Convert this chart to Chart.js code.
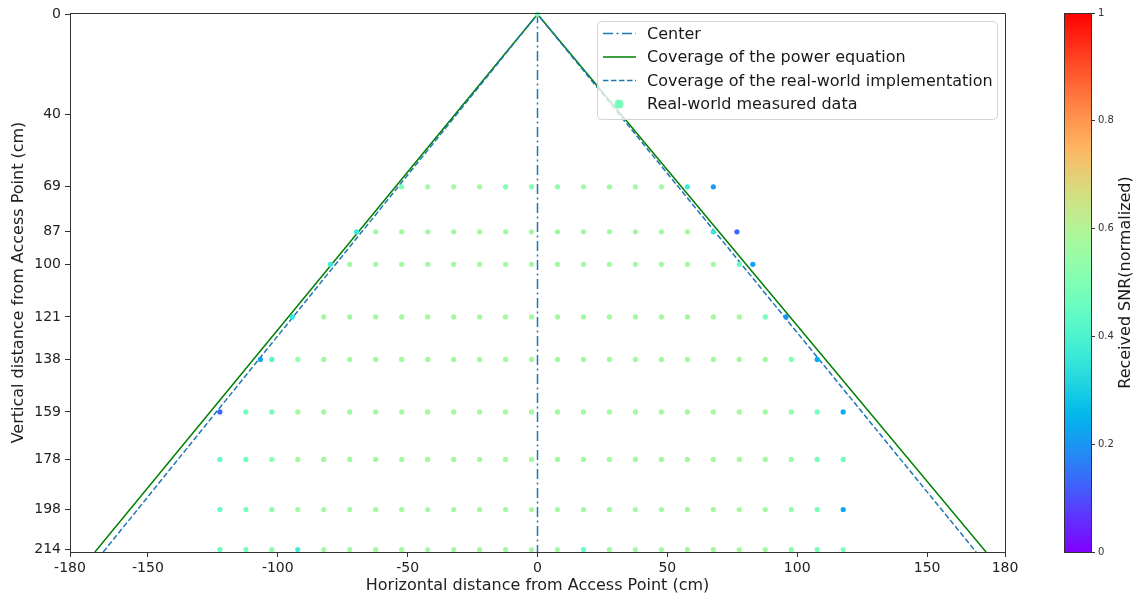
<!DOCTYPE html>
<html><head><meta charset="utf-8">
<script src="https://cdn.jsdelivr.net/npm/chart.js@4.4.0/dist/chart.umd.min.js"></script>
<style>
html,body{margin:0;padding:0;background:#fff;}
#wrap{position:relative;width:1141px;height:597px;overflow:hidden;}
#main{position:absolute;left:0;top:0;}
#cb{position:absolute;left:1040px;top:0;}
</style></head><body>
<div id="wrap"><canvas id="main" width="1141" height="597"></canvas><canvas id="cb" width="101" height="597"></canvas></div>
<script>
const FONT = "'DejaVu Sans', sans-serif";

// axis ticks
const xTicks = [-180, -150, -100, -50, 0, 50, 100, 150, 180];
const yTicks = [0, 40, 69, 87, 100, 121, 138, 159, 178, 198, 214];
const cbTicks = [0, 0.2, 0.4, 0.6, 0.8, 1];

// reference lines
const centerX = [0, 0];
const centerY = [-0.5, 215];
const powerX = [-170.4, 0, 172.7];
const powerY = [215, 0, 215];
const realX = [-167.2, 0, 168.9];
const realY = [215, 0, 215];

// measured rows (vertical distance, cm)
const rowYs = [0, 69, 87, 100, 121, 138, 159, 178, 198, 214];

const x0 = [0];
const snr0 = [0.48];

const x69 = [-52.3,-42.3,-32.3,-22.3,-12.3,-2.3,7.7,17.7,27.7,37.7,47.7,57.7,67.7];
const snr69 = [0.49,0.57,0.57,0.57,0.5,0.5,0.53,0.57,0.57,0.57,0.57,0.37,0.21];

const x87 = [-69.7,-62.3,-52.3,-42.3,-32.3,-22.3,-12.3,-2.3,7.7,17.7,27.7,37.7,47.7,57.7,67.7,76.8];
const snr87 = [0.37,0.57,0.57,0.57,0.57,0.57,0.57,0.57,0.57,0.57,0.57,0.57,0.57,0.57,0.36,0.13];

const x100 = [-79.7,-72.3,-62.3,-52.3,-42.3,-32.3,-22.3,-12.3,-2.3,7.7,17.7,27.7,37.7,47.7,57.7,67.7,77.7,82.9];
const snr100 = [0.37,0.57,0.57,0.57,0.57,0.57,0.57,0.57,0.57,0.57,0.57,0.57,0.57,0.57,0.57,0.57,0.45,0.22];

const x121 = [-94.4,-82.3,-72.3,-62.3,-52.3,-42.3,-32.3,-22.3,-12.3,-2.3,7.7,17.7,27.7,37.7,47.7,57.7,67.7,77.7,87.7,95.7];
const snr121 = [0.36,0.57,0.57,0.57,0.57,0.57,0.57,0.57,0.57,0.57,0.57,0.57,0.57,0.57,0.57,0.57,0.57,0.57,0.48,0.2];

const x138 = [-106.7,-102.3,-92.3,-82.3,-72.3,-62.3,-52.3,-42.3,-32.3,-22.3,-12.3,-2.3,7.7,17.7,27.7,37.7,47.7,57.7,67.7,77.7,87.7,97.7,107.7];
const snr138 = [0.22,0.42,0.54,0.57,0.57,0.57,0.57,0.57,0.57,0.57,0.57,0.57,0.57,0.57,0.57,0.57,0.57,0.57,0.57,0.57,0.57,0.5,0.24];

const x159 = [-122.3,-112.3,-102.3,-92.3,-82.3,-72.3,-62.3,-52.3,-42.3,-32.3,-22.3,-12.3,-2.3,7.7,17.7,27.7,37.7,47.7,57.7,67.7,77.7,87.7,97.7,107.7,117.7];
const snr159 = [0.13,0.47,0.48,0.57,0.57,0.57,0.57,0.57,0.57,0.57,0.57,0.57,0.57,0.57,0.57,0.57,0.57,0.57,0.57,0.57,0.57,0.57,0.53,0.47,0.24];

const x178 = [-122.3,-112.3,-102.3,-92.3,-82.3,-72.3,-62.3,-52.3,-42.3,-32.3,-22.3,-12.3,-2.3,7.7,17.7,27.7,37.7,47.7,57.7,67.7,77.7,87.7,97.7,107.7,117.7];
const snr178 = [0.45,0.47,0.52,0.57,0.57,0.57,0.57,0.57,0.57,0.57,0.57,0.57,0.57,0.57,0.57,0.57,0.57,0.57,0.57,0.57,0.57,0.57,0.55,0.48,0.47];

const x198 = [-122.3,-112.3,-102.3,-92.3,-82.3,-72.3,-62.3,-52.3,-42.3,-32.3,-22.3,-12.3,-2.3,7.7,17.7,27.7,37.7,47.7,57.7,67.7,77.7,87.7,97.7,107.7,117.7];
const snr198 = [0.45,0.48,0.52,0.57,0.57,0.57,0.57,0.57,0.57,0.57,0.57,0.57,0.57,0.57,0.57,0.57,0.57,0.57,0.57,0.57,0.57,0.57,0.54,0.48,0.23];

const x214 = [-122.3,-112.3,-102.3,-92.3,-82.3,-72.3,-62.3,-52.3,-42.3,-32.3,-22.3,-12.3,-2.3,7.7,17.7,27.7,37.7,47.7,57.7,67.7,77.7,87.7,97.7,107.7,117.7];
const snr214 = [0.46,0.48,0.52,0.38,0.57,0.57,0.57,0.57,0.57,0.57,0.57,0.57,0.57,0.57,0.45,0.57,0.57,0.57,0.57,0.57,0.57,0.57,0.52,0.48,0.5];

const rowXs = [x0, x69, x87, x100, x121, x138, x159, x178, x198, x214];
const rowSnrs = [snr0, snr69, snr87, snr100, snr121, snr138, snr159, snr178, snr198, snr214];

// matplotlib "rainbow" colormap
function rainbow(t) {
  const r = Math.min(1, Math.abs(2 * t - 0.5));
  const g = Math.max(0, Math.sin(Math.PI * t));
  const b = Math.max(0, Math.cos(Math.PI * t / 2));
  return 'rgb(' + Math.round(r * 255) + ',' + Math.round(g * 255) + ',' + Math.round(b * 255) + ')';
}

const pts = [], cols = [];
rowYs.forEach((y, r) => {
  rowXs[r].forEach((x, i) => { pts.push({x: x, y: y}); cols.push(rainbow(rowSnrs[r][i])); });
});
const toXY = (xs, ys) => xs.map((x, i) => ({x: x, y: ys[i]}));

const framePlugin = {
  id: 'frame',
  afterDatasetsDraw(chart) {
    const {ctx, chartArea: a} = chart;
    ctx.save();
    ctx.strokeStyle = '#333';
    ctx.lineWidth = 1;
    ctx.beginPath();
    ctx.moveTo(Math.round(a.left) + 0.5, Math.round(a.top) + 0.5);
    ctx.lineTo(Math.round(a.right) + 0.5, Math.round(a.top) + 0.5);
    ctx.lineTo(Math.round(a.right) + 0.5, Math.round(a.bottom) + 0.5);
    ctx.stroke();
    ctx.restore();
  }
};

const legendPlugin = {
  id: 'mplLegend',
  afterDatasetsDraw(chart) {
    const ctx = chart.ctx;
    const ds = chart.data.datasets;
    const bx = 597, by = 21, bw = 400, bh = 98;
    ctx.save();
    ctx.beginPath();
    ctx.roundRect(bx + 0.5, by + 0.5, bw, bh, 4);
    ctx.fillStyle = 'rgba(255,255,255,0.8)';
    ctx.fill();
    ctx.strokeStyle = '#d5d5d5';
    ctx.lineWidth = 1;
    ctx.stroke();
    const rowsY = [33.5, 57, 80.5, 104];
    ctx.font = '16px ' + FONT;
    ctx.textBaseline = 'middle';
    ctx.textAlign = 'left';
    ds.forEach((d, i) => {
      const y = rowsY[i];
      if (d.showLine) {
        ctx.beginPath();
        ctx.setLineDash(d.borderDash || []);
        ctx.strokeStyle = d.borderColor;
        ctx.lineWidth = d.borderWidth;
        ctx.moveTo(603, y);
        ctx.lineTo(636, y);
        ctx.stroke();
        ctx.setLineDash([]);
      } else {
        ctx.beginPath();
        ctx.fillStyle = d.pointBackgroundColor[0];
        ctx.arc(619, y, 4.5, 0, Math.PI * 2);
        ctx.fill();
      }
      ctx.fillStyle = '#1a1a1a';
      ctx.fillText(d.label, 647, y + 1);
    });
    ctx.restore();
  }
};

new Chart(document.getElementById('main'), {
  type: 'scatter',
  data: {
    datasets: [
      {label: 'Center', data: toXY(centerX, centerY), showLine: true, borderColor: '#1f77b4', borderWidth: 1.5, borderDash: [10, 3.5, 2, 3.5], pointRadius: 0, order: 3},
      {label: 'Coverage of the power equation', data: toXY(powerX, powerY), showLine: true, borderColor: '#008000', borderWidth: 1.5, pointRadius: 0, order: 2},
      {label: 'Coverage of the real-world implementation', data: toXY(realX, realY), showLine: true, borderColor: '#1f77b4', borderWidth: 1.5, borderDash: [5.5, 2.5], pointRadius: 0, order: 1},
      {label: 'Real-world measured data', data: pts, showLine: false, pointRadius: 2.6, pointBackgroundColor: cols, pointBorderWidth: 0, borderWidth: 0, order: 0, clip: false}
    ]
  },
  options: {
    responsive: false,
    animation: false,
    events: [],
    layout: {padding: {left: 0, right: 136, top: 13, bottom: 0}},
    plugins: {legend: {display: false}, tooltip: {enabled: false}},
    scales: {
      x: {
        type: 'linear', min: -180, max: 180,
        afterBuildTicks: s => { s.ticks = xTicks.map(v => ({value: v})); },
        afterFit: s => { s.height = 45; },
        ticks: {font: {family: FONT, size: 14}, color: '#222', padding: 3, maxRotation: 0, autoSkip: false, callback: v => String(v)},
        grid: {drawOnChartArea: false, drawTicks: true, tickLength: 5, color: '#333'},
        border: {display: true, color: '#333', width: 1},
        title: {display: true, text: 'Horizontal distance from Access Point (cm)', font: {family: FONT, size: 16}, color: '#222', padding: {top: 0, bottom: 2}}
      },
      y: {
        type: 'linear', reverse: true, min: -0.5, max: 215,
        afterBuildTicks: s => { s.ticks = yTicks.map(v => ({value: v})); },
        afterFit: s => { s.width = 70; },
        ticks: {font: {family: FONT, size: 14}, color: '#222', padding: 4, autoSkip: false, callback: v => String(v)},
        grid: {drawOnChartArea: false, drawTicks: true, tickLength: 5, color: '#333'},
        border: {display: true, color: '#333', width: 1},
        title: {display: true, text: 'Vertical distance from Access Point (cm)', font: {family: FONT, size: 16}, color: '#222', padding: {top: 9, bottom: 0}}
      }
    }
  },
  plugins: [framePlugin, legendPlugin]
});

const cbPlugin = {
  id: 'colorbar',
  beforeDatasetsDraw(chart) {
    const {ctx, chartArea: a} = chart;
    const g = ctx.createLinearGradient(0, a.bottom, 0, a.top);
    for (let k = 0; k <= 50; k++) { g.addColorStop(k / 50, rainbow(k / 50)); }
    ctx.save();
    ctx.fillStyle = g;
    ctx.fillRect(a.left, a.top, a.right - a.left, a.bottom - a.top);
    ctx.strokeStyle = '#333';
    ctx.lineWidth = 1;
    ctx.strokeRect(Math.round(a.left) + 0.5, Math.round(a.top) + 0.5, Math.round(a.right - a.left), Math.round(a.bottom - a.top));
    ctx.translate(86, (a.top + a.bottom) / 2);
    ctx.rotate(-Math.PI / 2);
    ctx.font = '16px ' + FONT;
    ctx.fillStyle = '#1a1a1a';
    ctx.textAlign = 'center';
    ctx.textBaseline = 'middle';
    ctx.fillText('Received SNR(normalized)', 0, 0);
    ctx.restore();
  }
};

new Chart(document.getElementById('cb'), {
  type: 'scatter',
  data: {datasets: []},
  options: {
    responsive: false,
    animation: false,
    events: [],
    layout: {padding: {left: 24, right: 0, top: 13, bottom: 45}},
    plugins: {legend: {display: false}, tooltip: {enabled: false}},
    scales: {
      x: {display: false, min: 0, max: 1},
      y: {
        position: 'right', min: 0, max: 1,
        afterBuildTicks: s => { s.ticks = cbTicks.map(v => ({value: v})); },
        afterFit: s => { s.width = 50; },
        ticks: {font: {family: FONT, size: 10}, color: '#333', padding: 3, callback: v => String(v)},
        grid: {drawOnChartArea: false, drawTicks: true, tickLength: 4, color: '#333'},
        border: {display: true, color: '#333', width: 1}
      }
    }
  },
  plugins: [cbPlugin]
});
</script>
</body></html>
